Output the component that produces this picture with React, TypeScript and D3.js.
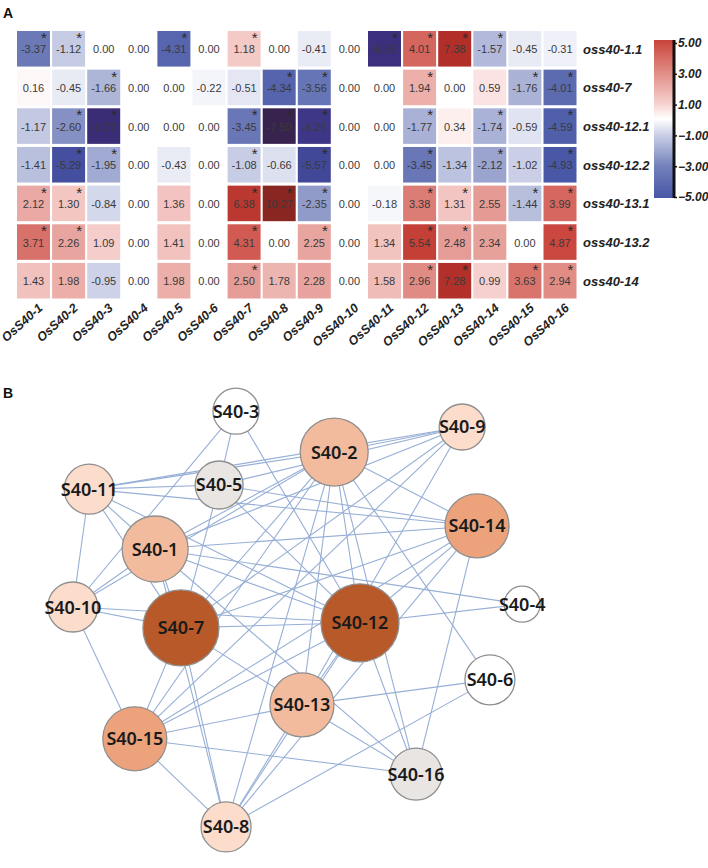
import React, { useEffect, useRef } from "react";
import * as d3 from "d3";

// ---------- Panel A data ----------
const rowLabels = ["oss40-1.1", "oss40-7", "oss40-12.1", "oss40-12.2", "oss40-13.1", "oss40-13.2", "oss40-14"];
const colLabels = ["OsS40-1", "OsS40-2", "OsS40-3", "OsS40-4", "OsS40-5", "OsS40-6", "OsS40-7", "OsS40-8",
  "OsS40-9", "OsS40-10", "OsS40-11", "OsS40-12", "OsS40-13", "OsS40-14", "OsS40-15", "OsS40-16"];
const values = [
  [-3.37, -1.12, 0, 0, -4.31, 0, 1.18, 0, -0.41, 0, -6.59, 4.01, 7.38, -1.57, -0.45, -0.31],
  [0.16, -0.45, -1.66, 0, 0, -0.22, -0.51, -4.34, -3.56, 0, 0, 1.94, 0, 0.59, -1.76, -4.01],
  [-1.17, -2.6, -6.77, 0, 0, 0, -3.45, -7.5, -6.26, 0, 0, -1.77, 0.34, -1.74, -0.59, -4.59],
  [-1.41, -5.29, -1.95, 0, -0.43, 0, -1.08, -0.66, -5.57, 0, 0, -3.45, -1.34, -2.12, -1.02, -4.93],
  [2.12, 1.3, -0.84, 0, 1.36, 0, 6.38, 10.27, -2.35, 0, -0.18, 3.38, 1.31, 2.55, -1.44, 3.99],
  [3.71, 2.26, 1.09, 0, 1.41, 0, 4.31, 0, 2.25, 0, 1.34, 5.54, 2.48, 2.34, 0, 4.87],
  [1.43, 1.98, -0.95, 0, 1.98, 0, 2.5, 1.78, 2.28, 0, 1.58, 2.96, 7.28, 0.99, 3.63, 2.94],
];
const signif = [
  [1, 1, 0, 0, 1, 0, 1, 0, 0, 0, 1, 1, 1, 1, 0, 0],
  [0, 0, 1, 0, 0, 0, 0, 1, 1, 0, 0, 1, 0, 0, 1, 1],
  [0, 1, 1, 0, 0, 0, 1, 1, 1, 0, 0, 1, 0, 1, 0, 1],
  [0, 1, 1, 0, 0, 0, 1, 0, 1, 0, 0, 1, 0, 1, 0, 1],
  [1, 1, 0, 0, 0, 0, 1, 1, 1, 0, 0, 1, 1, 0, 1, 1],
  [1, 1, 0, 0, 0, 0, 1, 0, 1, 0, 0, 1, 1, 0, 0, 1],
  [0, 0, 0, 0, 0, 0, 1, 0, 0, 0, 0, 1, 1, 0, 1, 1],
];
const legendTicks = [5, 3, 1, -1, -3, -5];
const colorDomain = [-7.5, -6.6, -5, -3, -1, 0, 1, 3, 5, 7.4, 10.3];
const colorRange = ["#38234e", "#3c2f7e", "#4656a6", "#7381bb", "#cbd0e7", "#ffffff", "#f6d0cd", "#e08a83", "#c9433a", "#b12f28", "#8a2622"];

// ---------- Panel B data ----------
const nodeNames = ["S40-1", "S40-2", "S40-3", "S40-4", "S40-5", "S40-6", "S40-7", "S40-8",
  "S40-9", "S40-10", "S40-11", "S40-12", "S40-13", "S40-14", "S40-15", "S40-16"];
const nodeLayoutX = [21.6, 57.7, 37.9, 95.6, 34.5, 89.1, 26.8, 35.9, 83.5, 5.0, 8.3, 62.9, 51.2, 86.5, 17.5, 74.2];
const nodeLayoutY = [34.7, 13.8, 5.0, 46.6, 20.9, 62.9, 51.7, 94.6, 8.4, 47.2, 21.8, 50.6, 68.3, 29.7, 75.6, 83.2];
const nodeScore = [11.5, 12, 6.5, 4, 7, 7.5, 14, 7.5, 6.5, 7.5, 7.5, 14.5, 11, 11, 11, 8];
const nodeClass = [3, 3, 0, 0, 1, 0, 5, 2, 2, 2, 2, 5, 3, 4, 4, 1];
const classColors = ["#ffffff", "#e8e5e3", "#fcdccb", "#f3bb9e", "#eca27b", "#b8592a"];
const edges: [number, number][] = [
  [3, 10], [3, 5], [3, 12], [11, 5], [11, 2], [11, 9], [11, 1], [11, 7], [11, 10], [11, 12], [11, 14],
  [10, 1], [10, 12], [10, 7], [10, 15], [10, 2], [1, 14], [1, 4], [1, 12], [1, 7], [1, 9], [1, 8],
  [1, 2], [1, 16], [5, 14], [5, 9], [5, 7], [5, 12], [9, 2], [9, 7], [9, 15], [9, 13], [2, 14],
  [2, 6], [2, 16], [2, 13], [2, 8], [2, 12], [2, 7], [2, 15], [14, 12], [14, 7], [14, 16], [14, 15],
  [12, 4], [12, 16], [12, 13], [12, 15], [12, 8], [12, 7], [7, 13], [7, 15], [7, 8], [13, 6],
  [13, 16], [13, 15], [13, 8], [6, 8], [15, 16], [15, 8], [14, 8],
];

const W = 708;
const H = 868;
const FONT = "'Liberation Sans', Arial, sans-serif";

export default function App() {
  const axisRef = useRef<SVGGElement>(null);

  const x = d3.scaleBand<string>().domain(colLabels).range([17, 576.5]).paddingInner(0.06).paddingOuter(0);
  const y = d3.scaleBand<string>().domain(rowLabels).range([31, 298.5]).paddingInner(0.08).paddingOuter(0);
  const color = d3.scaleLinear<string>().domain(colorDomain).range(colorRange).interpolate(d3.interpolateRgb).clamp(true);
  const legendY = d3.scaleLinear().domain([-5, 5]).range([197, 43]);

  const nx = d3.scaleLinear().domain([0, 100]).range([48, 544]);
  const ny = d3.scaleLinear().domain([0, 100]).range([388, 852]);
  const nr = d3.scaleLinear().domain([4, 14.5]).range([18, 39]);

  useEffect(() => {
    if (!axisRef.current) return;
    const g = d3.select(axisRef.current);
    g.selectAll("*").remove();
    g.call(d3.axisRight(legendY).tickValues(legendTicks).tickFormat(d3.format(".2f")).tickSize(3).tickPadding(1));
    g.select(".domain").attr("stroke", "#111").attr("stroke-width", 3).attr("d", "M0,40V198");
    g.selectAll(".tick line").attr("stroke", "#111").attr("stroke-width", 1.5);
    g.selectAll(".tick text")
      .attr("font-family", FONT)
      .attr("font-size", 12)
      .attr("font-weight", "bold")
      .attr("font-style", "italic")
      .attr("fill", "#222");
  }, []);

  const gradStops = d3.range(0, 21).map((i) => 5 - i * 0.5);

  return (
    <svg width={W} height={H} style={{ position: "absolute", left: 0, top: 0, background: "#fff" }}>
      <defs>
        <linearGradient id="legendGrad" x1="0" y1="0" x2="0" y2="1">
          {gradStops.map((v, i) => (
            <stop key={i} offset={`${(i / (gradStops.length - 1)) * 100}%`} stopColor={color(v)} />
          ))}
        </linearGradient>
      </defs>
      <rect width={W} height={H} fill="#fff" />
      <text x={3} y={18} fontFamily={FONT} fontWeight="bold" fontSize={14} fill="#111">A</text>
      <text x={3} y={398} fontFamily={FONT} fontWeight="bold" fontSize={14} fill="#111">B</text>

      {/* heatmap */}
      {rowLabels.map((r, ri) => (
        <g key={r}>
          {colLabels.map((c, ci) => {
            const v = values[ri][ci];
            const x0 = x(c)!;
            const y0 = y(r)!;
            return (
              <g key={c}>
                <rect x={x0} y={y0} width={x.bandwidth()} height={y.bandwidth()} fill={color(v)} />
                <text x={x0 + x.bandwidth() / 2} y={y0 + y.bandwidth() / 2 + 4.5} textAnchor="middle"
                  fontFamily={FONT} fontSize={11} fill="#3a3a3a">{v.toFixed(2)}</text>
                {signif[ri][ci] ? (
                  <text x={x0 + x.bandwidth() - 6} y={y0 + 12} textAnchor="middle" fontFamily={FONT}
                    fontSize={15} fill="#2a2a2a">*</text>
                ) : null}
              </g>
            );
          })}
          <text x={583} y={y(r)! + y.bandwidth() / 2 + 5} fontFamily={FONT} fontSize={13} fontWeight="bold"
            fontStyle="italic" fill="#222">{r}</text>
        </g>
      ))}
      {colLabels.map((c) => {
        const ax = x(c)! + x.bandwidth() / 2 + 10;
        const ay = 309;
        return (
          <text key={c} transform={`translate(${ax},${ay}) rotate(-42)`} textAnchor="end" fontFamily={FONT}
            fontSize={12.5} fontWeight="bold" fontStyle="italic" fill="#222">{c}</text>
        );
      })}

      {/* legend */}
      <rect x={654} y={40} width={19} height={158} fill="url(#legendGrad)" />
      <g ref={axisRef} transform="translate(674,0)" />

      {/* network */}
      <g>
        {edges.map(([a, b], i) => (
          <line key={i} x1={nx(nodeLayoutX[a - 1])} y1={ny(nodeLayoutY[a - 1])} x2={nx(nodeLayoutX[b - 1])}
            y2={ny(nodeLayoutY[b - 1])} stroke="#97afd6" strokeWidth={1.1} />
        ))}
        {nodeNames.map((n, i) => (
          <g key={n}>
            <circle cx={nx(nodeLayoutX[i])} cy={ny(nodeLayoutY[i])} r={nr(nodeScore[i])} fill={classColors[nodeClass[i]]}
              stroke="#8f8f8f" strokeWidth={1.3} />
            <text x={nx(nodeLayoutX[i])} y={ny(nodeLayoutY[i]) + 6.5} textAnchor="middle"
              fontFamily="'Noto Sans', 'DejaVu Sans', sans-serif" fontSize={18} fontWeight={600} fill="#1a1a1a">{n}</text>
          </g>
        ))}
      </g>
    </svg>
  );
}
